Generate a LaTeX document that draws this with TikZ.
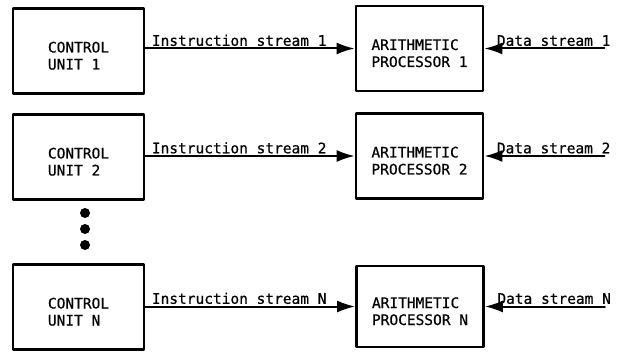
\documentclass[tikz,border=0pt]{standalone}
\usepackage{fontspec}
\newfontfamily\labfont[FakeBold=0.6]{DejaVu Sans Mono}
\usetikzlibrary{arrows.meta}
\tikzset{
  unitbox/.style={draw,line width=2.8pt,minimum width=131pt,minimum height=85pt,align=left,
    text height=37pt,text depth=0pt,font=\labfont\fontsize{14.5}{17}\selectfont},
  stream/.style={line width=2pt,-{Latex[length=18pt,width=12pt]}},
  streamlab/.style={font=\labfont\fontsize{14.5}{16}\selectfont,inner sep=1.5pt}
}
\begin{document}
\begin{tikzpicture}[x=1pt,y=-1pt,line cap=round,line join=round]
  \useasboundingbox (0,0) rectangle (617,352);
  % control units and arithmetic processors
  \node[unitbox] (cu1) at (78.5,51) {CONTROL\\UNIT 1};
  \node[unitbox] (cu2) at (78.5,157) {CONTROL\\UNIT 2};
  \node[unitbox] (cuN) at (78.5,307) {CONTROL\\UNIT N};
  \node[unitbox,minimum width=127pt] (ap1) at (419.5,48.5) {ARITHMETIC\\PROCESSOR 1};
  \node[unitbox,minimum width=127pt] (ap2) at (419.5,156) {ARITHMETIC\\PROCESSOR 2};
  \node[unitbox,minimum width=127pt,minimum height=81pt] (apN) at (420,306.5) {ARITHMETIC\\PROCESSOR N};
  % streams
  \foreach \i in {1,2,N}{
    \draw[stream] (cu\i.east |- ap\i.west) --
      node[pos=0,anchor=south west,streamlab,xshift=4pt]{Instruction stream \i} (ap\i.west);
    \coordinate (ds\i) at ([xshift=120pt]ap\i.east);
    \draw[stream] (ds\i) --
      node[pos=1,anchor=south west,streamlab,xshift=10pt]{Data stream \i} (ap\i.east);
  }
  % dots between unit 2 and unit N
  \foreach \y in {213,229,245}
    \fill (85,\y) circle (5pt);
\end{tikzpicture}
\end{document}
